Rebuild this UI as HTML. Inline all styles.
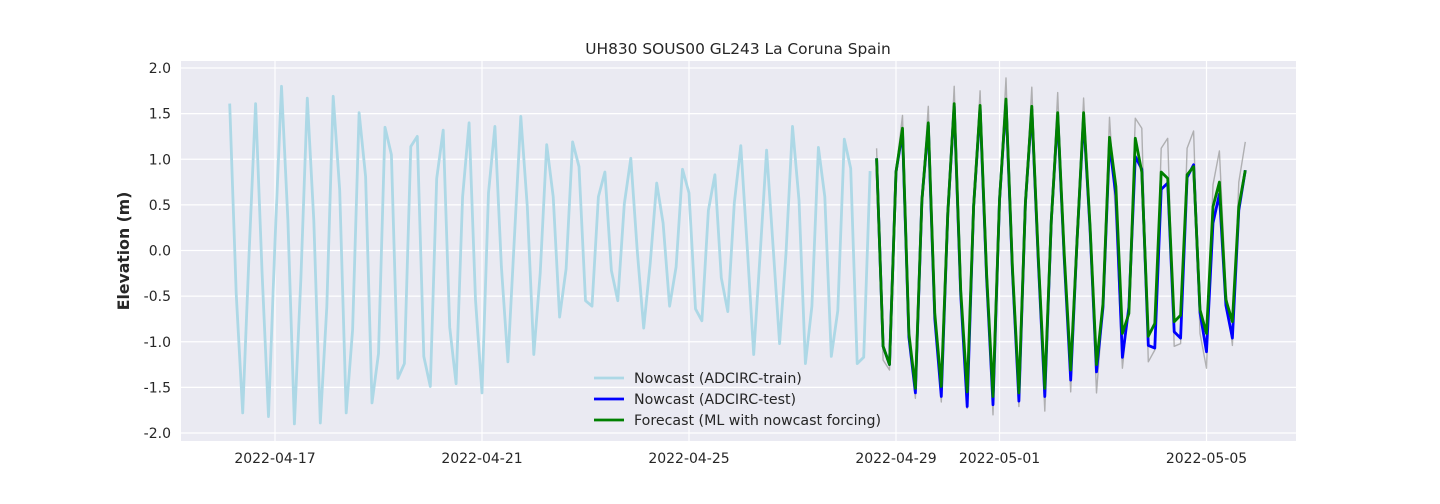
<!DOCTYPE html>
<html><head><meta charset="utf-8"><style>
body{margin:0;background:#fff;}
svg{display:block;font-family:"DejaVu Sans","Liberation Sans",sans-serif;}
</style></head><body>
<svg id="chart" width="1440" height="504">
<rect x="181" y="61" width="1115" height="380" fill="#eaeaf2"/>
<g id="grid"></g><g id="series"></g><g id="axes"></g>
<text x="738" y="54" text-anchor="middle" font-size="15.4" fill="#262626">UH830 SOUS00 GL243 La Coruna Spain</text>
<text transform="translate(129,251) rotate(-90)" text-anchor="middle" font-size="15.7" font-weight="bold" fill="#262626">Elevation (m)</text>
<g>
<line x1="594" y1="378" x2="624" y2="378" stroke="#add8e6" stroke-width="2.8"/>
<text x="634" y="383" font-size="14.2" fill="#262626">Nowcast (ADCIRC-train)</text>
<line x1="594" y1="399" x2="624" y2="399" stroke="#0000ff" stroke-width="2.8"/>
<text x="634" y="404" font-size="14.2" fill="#262626">Nowcast (ADCIRC-test)</text>
<line x1="594" y1="420" x2="624" y2="420" stroke="#008000" stroke-width="2.8"/>
<text x="634" y="425" font-size="14.2" fill="#262626">Forecast (ML with nowcast forcing)</text>
</g>
</svg>
<script>
// time in days since 2022-04-17 00:00, 3-hourly samples
const trainStart = -0.875;
const testStart = 11.625;
const stepDays = 0.125;
const trainValues = [1.61,-0.47,-1.78,-0.03,1.61,-0.25,-1.82,0.1,1.80,0.33,-1.90,-0.3,1.67,0.33,-1.89,-0.62,1.69,0.66,-1.78,-0.87,
1.51,0.81,-1.67,-1.13,1.35,1.05,-1.40,-1.24,1.14,1.25,-1.16,-1.49,0.79,1.32,-0.84,-1.46,0.59,1.40,-0.54,-1.56,
0.63,1.36,-0.18,-1.22,0.12,1.47,0.48,-1.14,-0.25,1.16,0.59,-0.73,-0.20,1.19,0.92,-0.55,-0.61,0.59,0.86,-0.22,
-0.55,0.51,1.01,-0.01,-0.85,-0.14,0.74,0.30,-0.61,-0.18,0.89,0.63,-0.64,-0.77,0.44,0.83,-0.30,-0.67,0.52,1.15,
0.04,-1.14,-0.03,1.10,0.04,-1.02,-0.03,1.36,0.55,-1.24,-0.61,1.13,0.59,-1.16,-0.66,1.22,0.90,-1.24,-1.17,0.87];
const forecastValues = [1.01,-1.05,-1.25,0.86,1.34,-0.91,-1.51,0.55,1.40,-0.69,-1.49,0.41,1.61,-0.43,-1.55,0.48,1.59,-0.25,-1.60,0.55,
1.66,-0.18,-1.56,0.52,1.58,-0.07,-1.51,0.33,1.51,-0.03,-1.31,0.12,1.51,0.26,-1.25,-0.58,1.24,0.70,-0.91,-0.69,
1.23,0.86,-0.94,-0.80,0.86,0.79,-0.78,-0.71,0.83,0.92,-0.65,-0.91,0.48,0.75,-0.54,-0.78,0.48,0.88];
const testValues = [1.01,-1.05,-1.25,0.86,1.30,-0.95,-1.56,0.55,1.37,-0.75,-1.60,0.41,1.58,-0.48,-1.71,0.48,1.56,-0.30,-1.69,0.55,
1.63,-0.22,-1.65,0.52,1.55,-0.12,-1.60,0.33,1.48,-0.08,-1.42,0.12,1.46,0.22,-1.33,-0.62,1.17,0.60,-1.17,-0.62,
1.03,0.89,-1.04,-1.07,0.67,0.74,-0.89,-0.96,0.80,0.94,-0.68,-1.11,0.30,0.62,-0.60,-0.96,0.44,0.88];
const observedValues = [1.12,-1.20,-1.31,0.86,1.48,-0.95,-1.62,0.55,1.58,-0.75,-1.66,0.41,1.80,-0.48,-1.73,0.48,1.75,-0.30,-1.80,0.55,
1.89,-0.22,-1.71,0.52,1.79,-0.12,-1.76,0.33,1.73,-0.08,-1.55,0.12,1.67,0.22,-1.56,-0.62,1.46,0.34,-1.29,-0.60,
1.45,1.34,-1.22,-1.09,1.12,1.23,-1.05,-1.02,1.12,1.31,-0.91,-1.29,0.72,1.09,-0.43,-1.04,0.75,1.19];
const yTicks = [-2.0,-1.5,-1.0,-0.5,0.0,0.5,1.0,1.5,2.0];
const xTickDays = [0,4,8,12,14,18];
const xTickLabels = ["2022-04-17","2022-04-21","2022-04-25","2022-04-29","2022-05-01","2022-05-05"];

const NS="http://www.w3.org/2000/svg";
const X = d => 275 + d*51.75;
const Y = v => 250.5 - v*91.25;
function mk(tag, attrs, parent){const e=document.createElementNS(NS,tag);for(const k in attrs)e.setAttribute(k,attrs[k]);parent.appendChild(e);return e;}
const grid=document.getElementById('grid'), axes=document.getElementById('axes'), ser=document.getElementById('series');
yTicks.forEach(v=>{
  const l=mk('line',{x1:181,x2:1296,y1:Y(v),y2:Y(v),stroke:'#fff','stroke-width':1.2},grid);
  
  
  const t=mk('text',{x:171,y:Y(v)+5,'text-anchor':'end','font-size':14,fill:'#262626'},axes);
  t.textContent=v.toFixed(1);
  
  
});
xTickDays.forEach((d,i)=>{
  const l=mk('line',{x1:X(d),x2:X(d),y1:61,y2:441,stroke:'#fff','stroke-width':1.2},grid);
  
  
  const t=mk('text',{x:X(d),y:463,'text-anchor':'middle','font-size':14,fill:'#262626'},axes);
  t.textContent=xTickLabels[i];
  
  
});
function line(vals,start,color,w,name){
  const pts=vals.map((v,i)=>X(start+i*stepDays).toFixed(1)+','+Y(v).toFixed(1)).join(' ');
  const p=mk('polyline',{points:pts,fill:'none',stroke:color,'stroke-width':w,'stroke-linejoin':'round'},ser);
  
  
}
line(trainValues,trainStart,'#add8e6',2.8,'nowcast-train-line');
line(observedValues,testStart,'rgba(150,150,150,0.7)',1.4,'observed-line');
line(testValues,testStart,'#0000ff',2.8,'nowcast-test-line');
line(forecastValues,testStart,'#008000',2.8,'forecast-line');
</script>
</body></html>
